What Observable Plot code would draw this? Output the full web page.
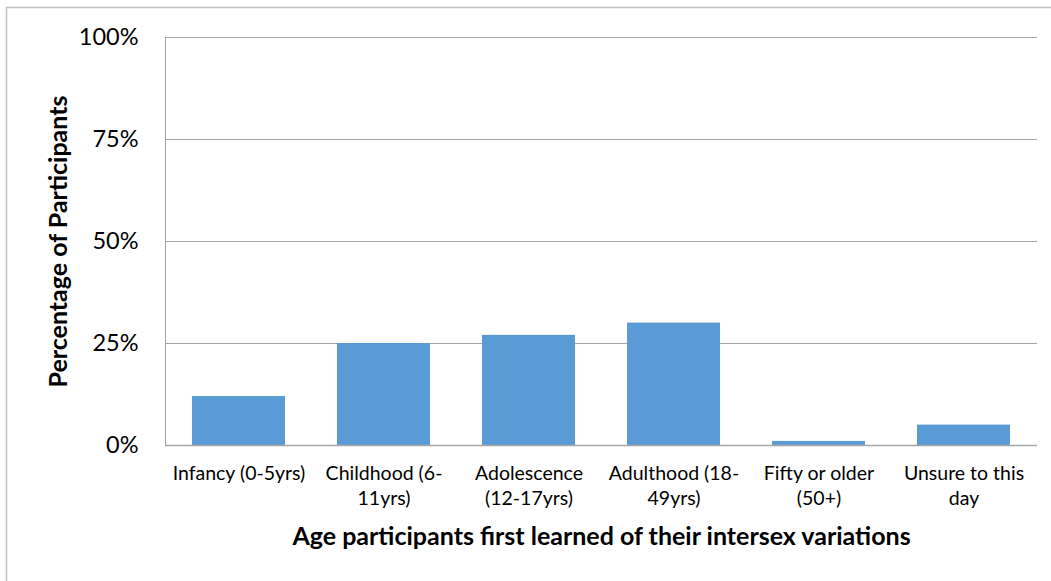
<!DOCTYPE html>
<html>
<head>
<meta charset="utf-8">
<script src="https://cdn.jsdelivr.net/npm/d3@7"></script>
<script src="https://cdn.jsdelivr.net/npm/@observablehq/plot@0.6"></script>
<style>
  html, body { margin: 0; padding: 0; background: #fff; }
  #chart { width: 1051px; height: 581px; }
</style>
</head>
<body>
<div id="chart"></div>
<script>
const categories = ["Infancy", "Childhood", "Adolescence", "Adulthood", "Fifty", "Unsure"];
const tickLabels = ["Infancy (0-5yrs)", "Childhood (6-\n11yrs)", "Adolescence\n(12-17yrs)", "Adulthood (18-\n49yrs)", "Fifty or older\n(50+)", "Unsure to this\nday"];
const percentages = [12, 25, 27, 30, 1, 5];
const yTicks = [0, 25, 50, 75, 100];
const xTitle = "Age participants first learned of their intersex variations";
const yTitle = "Percentage of Participants";

const data = categories.map((c, i) => ({cat: c, value: percentages[i]}));
const labelOf = Object.fromEntries(categories.map((c, i) => [c, tickLabels[i]]));

const font = "Lato, 'Open Sans', sans-serif";

const plot = Plot.plot({
  width: 1051,
  height: 581,
  marginLeft: 165,
  marginRight: 14,
  marginTop: 37,
  marginBottom: 136,
  style: {fontFamily: font, background: "#fff", color: "#000"},
  x: {domain: categories, paddingInner: 0.36, paddingOuter: 0.18, label: null},
  y: {domain: [0, 100], label: null},
  marks: [
    Plot.ruleY(yTicks.filter(d => d > 0), {stroke: "#a6a6a6", strokeWidth: 1}),
    Plot.barY(data, {x: "cat", y: "value", fill: "#5b9bd5"}),
    Plot.ruleY([0], {stroke: "#a6a6a6", strokeWidth: 1.5}),
    Plot.frame({anchor: "left", stroke: "#a6a6a6", strokeWidth: 1}),
    Plot.axisY({ticks: yTicks, tickFormat: d => d + "%", tickSize: 0, tickPadding: 27, fontSize: 23.5, label: null}),
    Plot.axisX({tickFormat: d => labelOf[d], tickSize: 0, tickPadding: 17, fontSize: 19.5, lineHeight: 1.28, label: null}),
    Plot.text([xTitle], {frameAnchor: "bottom", dy: 99, fontSize: 25, fontWeight: "bold"}),
    Plot.text([yTitle], {frameAnchor: "left", dx: -107, rotate: -90, textAnchor: "middle", fontSize: 25, fontWeight: "bold"})
  ]
});

const svg = d3.select(plot);
svg.insert("rect", ":first-child")
  .attr("x", 6.5).attr("y", 7.5).attr("width", 1060).attr("height", 600)
  .attr("fill", "none").attr("stroke", "#bfbfbf").attr("stroke-width", 1.5);

document.getElementById("chart").appendChild(plot);
</script>
</body>
</html>
